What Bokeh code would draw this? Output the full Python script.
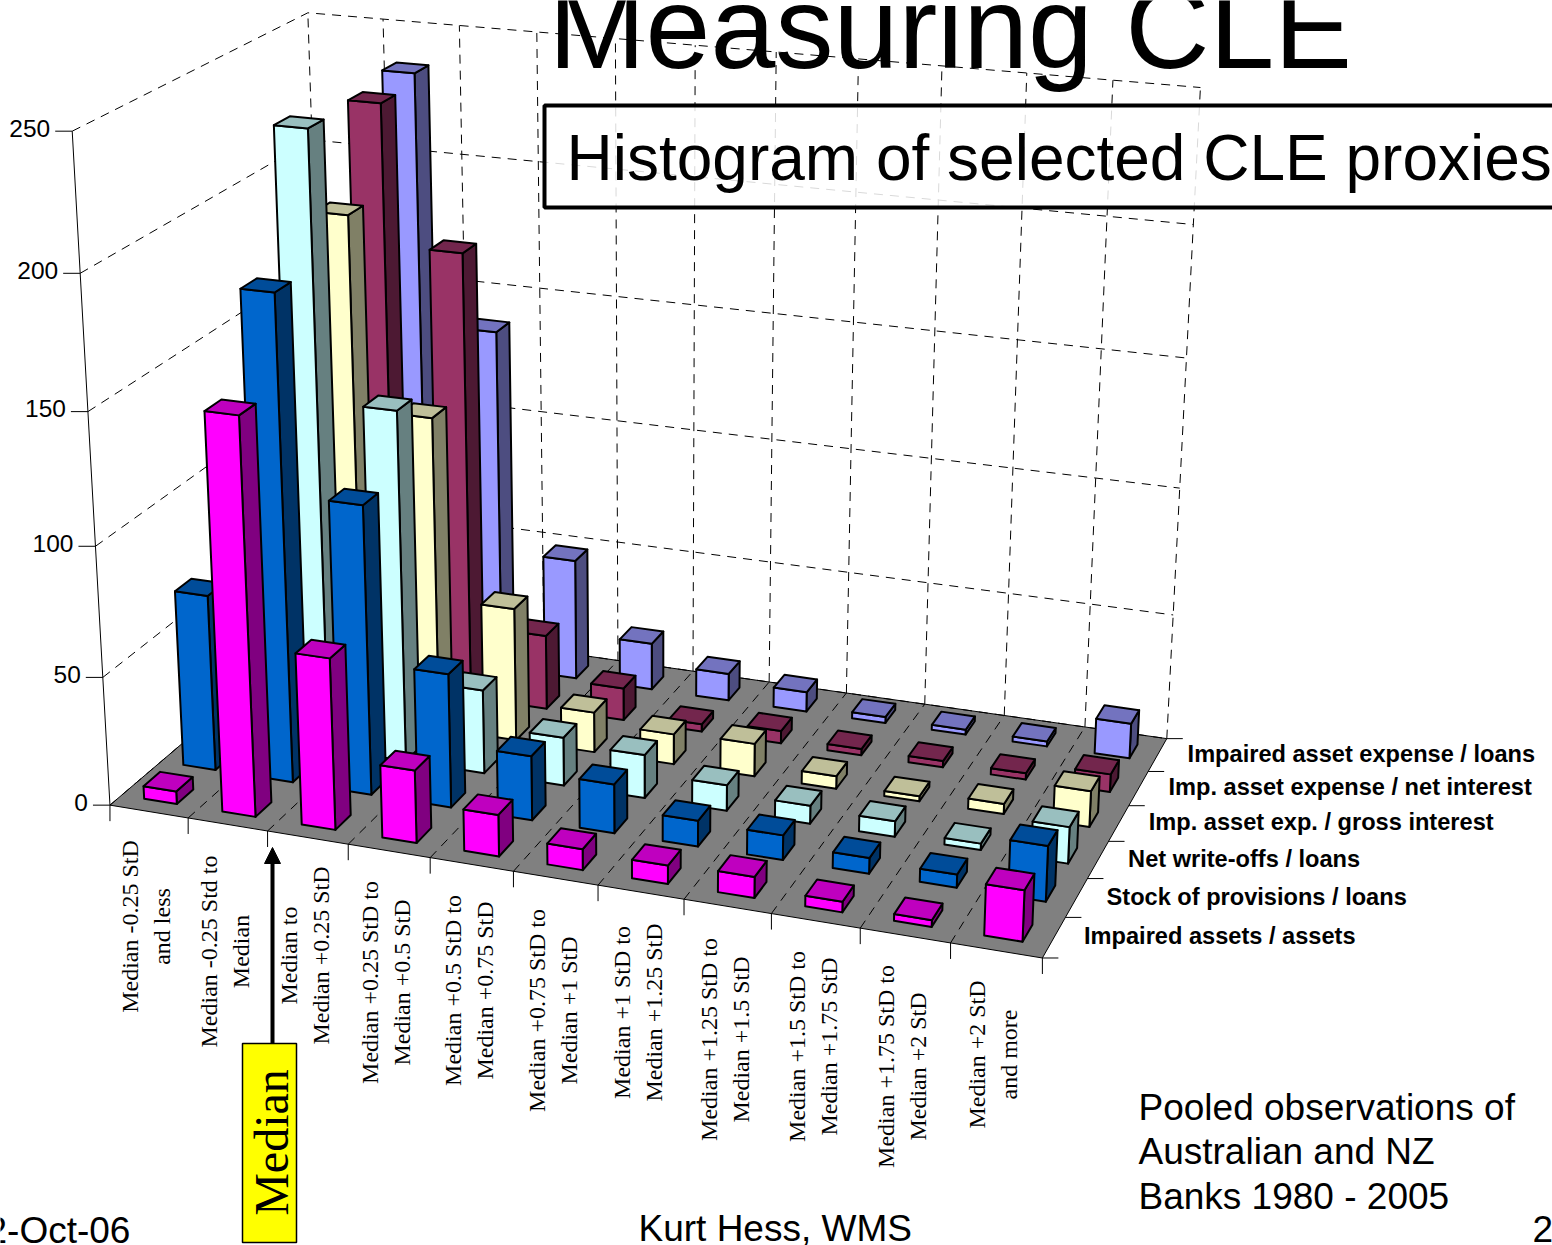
import numpy as np
from bokeh.plotting import figure
from bokeh.core.properties import value
from bokeh.embed import file_html
from bokeh.resources import INLINE

# ---------- data ----------
categories = [
    ("Median -0.25 StD", "and less"),
    ("Median -0.25 Std to", "Median"),
    ("Median to", "Median +0.25 StD"),
    ("Median +0.25 StD to", "Median +0.5 StD"),
    ("Median +0.5 StD to", "Median +0.75 StD"),
    ("Median +0.75 StD to", "Median +1 StD"),
    ("Median +1 StD to", "Median +1.25 StD"),
    ("Median +1.25 StD to", "Median +1.5 StD"),
    ("Median +1.5 StD to", "Median +1.75 StD"),
    ("Median +1.75 StD to", "Median +2 StD"),
    ("Median +2 StD", "and more"),
]
series_names = [
    "Impaired assets / assets",
    "Stock of provisions / loans",
    "Net write-offs / loans",
    "Imp. asset exp. / gross interest",
    "Imp. asset expense / net interest",
    "Impaired asset expense / loans",
]
impaired_assets = [5, 152, 66, 28, 16, 8, 7, 8, 4, 2.5, 19]
stock_provisions = [69, 187, 112, 52, 25, 19, 10, 9.5, 6, 5, 21]
net_writeoffs = [45, 238, 137, 33, 19, 17, 10, 7, 6, 2.5, 14]
exp_gross = [30, 198, 124, 53, 16, 12, 13, 5, 2, 4, 14]
exp_net = [25, 232, 178, 30, 13, 3, 5, 2.5, 2.5, 2.5, 7]
exp_loans = [25, 236, 138, 49, 19, 11, 8, 2.5, 2, 2, 14]
y_ticks = [0, 50, 100, 150, 200, 250]

all_series = [impaired_assets, stock_provisions, net_writeoffs, exp_gross, exp_net, exp_loans]

# ---------- styles ----------
front_colors = ["#FF00FF", "#0066CC", "#CCFFFF", "#FFFFCC", "#993366", "#9999FF"]
top_colors = ["#BF00BF", "#004C99", "#99BFBF", "#BFBF99", "#73264D", "#7373BF"]
side_colors = ["#800080", "#003366", "#668080", "#808066", "#4D1933", "#4D4D80"]

W, H = 1552, 1245
YMAX = 250.0
NC, NS = len(categories), len(series_names)
GAP = 0.29

# ---------- perspective fitted to the picture's box corners ----------
world = [(0,0,0),(1,0,0),(1,1,0),(0,1,0),(0,0,1),(0,1,1),(1,1,1)]
screen = [(110,803),(1041,960),(1167,735),(327,621),(72,130),(307,12),(1200,88)]
A, b = [], []
for (X,Y,Z),(u,v) in zip(world, screen):
    A.append([X,Y,Z,1,0,0,0,0,-u*X,-u*Y,-u*Z]); b.append(u)
    A.append([0,0,0,0,X,Y,Z,1,-v*X,-v*Y,-v*Z]); b.append(v)
sol = np.linalg.lstsq(np.array(A,float), np.array(b,float), rcond=None)[0]
PM = np.append(sol, 1.0).reshape(3,4)

def proj(c, s, val):
    """c: category position, s: series position, val: data value."""
    q = PM @ np.array([c/NC, s/NS, val/YMAX, 1.0])
    return q[0]/q[2], q[1]/q[2]

def path(*pts):
    pp = [proj(*t) for t in pts]
    return [a for a,_ in pp], [b for _,b in pp]

p = figure(width=W, height=H, x_range=(0, W), y_range=(H, 0),
           output_backend="svg", toolbar_location=None, min_border=0,
           outline_line_color=None, background_fill_color="white", border_fill_color="white")
p.axis.visible = False
p.grid.visible = False

DASH = "9 7"
# floor
fx, fy = path((0,0,0),(NC,0,0),(NC,NS,0),(0,NS,0))
p.patch(fx, fy, fill_color="#808080", line_color="black", line_width=1)

# walls
gx, gy = [], []
for t in y_ticks:
    x, y = path((0,0,t),(0,NS,t),(NC,NS,t))
    gx.append(x); gy.append(y)
for c in range(NC+1):
    x, y = path((c,NS,0),(c,NS,YMAX))
    gx.append(x); gy.append(y)
p.multi_line(gx, gy, line_color="black", line_width=1, line_dash=DASH)
# floor grid
gx, gy = [], []
for c in range(1, NC):
    x, y = path((c,0,0),(c,NS,0))
    gx.append(x); gy.append(y)
p.multi_line(gx, gy, line_color="black", line_width=1, line_dash=DASH)

# axes + ticks
ax, ay = path((0,0,0),(0,0,YMAX))
p.line(ax, ay, line_color="black", line_width=1)
tx, ty = [], []
for t in y_ticks:
    x, y = proj(0,0,t)
    tx.append([x-17, x]); ty.append([y, y])
    p.text([x-22], [y-3], text=[str(t)], text_font=value("Liberation Sans"), text_font_size="24.5px",
           text_align="right", text_baseline="middle", text_color="black")
for c in range(NC+1):
    x, y = proj(c,0,0)
    tx.append([x, x]); ty.append([y, y+16])
for s in range(NS+1):
    x, y = proj(NC,s,0)
    tx.append([x, x+16]); ty.append([y, y])
p.multi_line(tx, ty, line_color="black", line_width=1)

# bars, painted back to front
xs, ys, cols = [], [], []
for s in range(NS-1, -1, -1):
    vals = all_series[s]
    for c in range(NC):
        z = vals[c]
        c0, c1 = c+GAP, c+1-GAP
        s0, s1 = s+GAP, s+1-GAP
        for pts, col in (
            (((c1,s0,0),(c1,s1,0),(c1,s1,z),(c1,s0,z)), side_colors[s]),
            (((c0,s0,0),(c1,s0,0),(c1,s0,z),(c0,s0,z)), front_colors[s]),
            (((c0,s0,z),(c1,s0,z),(c1,s1,z),(c0,s1,z)), top_colors[s]),
        ):
            x, y = path(*pts)
            xs.append(x); ys.append(y); cols.append(col)
p.patches(xs, ys, fill_color=cols, line_color="black", line_width=2, line_join="round")

# series labels
for s, name in enumerate(series_names):
    x, y = proj(NC, s+0.5, 0)
    p.text([x+30], [y-1], text=[name], text_font=value("Liberation Sans"), text_font_style="bold",
           text_font_size="23.6px", text_align="left", text_baseline="middle", text_color="black")

# category labels
label_mid_y = [926, 951, 955, 982, 990, 1010, 1012, 1039, 1046, 1066, 1054]
for c, (l1, l2) in enumerate(categories):
    x, _ = proj(c+0.5, 0, 0)
    p.text([x-19, x+13], [label_mid_y[c]]*2, text=[l1, l2], angle=np.pi/2,
           text_font=value("Liberation Serif"), text_font_size="24px",
           text_align="center", text_baseline="middle", text_color="black")

# median marker
p.line([272, 272], [1043, 862], line_color="black", line_width=4)
p.patch([272, 264, 280], [847, 863, 863], fill_color="black", line_color="black", line_width=1)
p.quad(left=[242], right=[296], top=[1043], bottom=[1242], fill_color="#FFFF00", line_color="black", line_width=1.5)
p.text([271], [1142], text=["Median"], angle=np.pi/2, text_font=value("Liberation Serif"),
       text_font_size="48px", text_align="center", text_baseline="middle", text_color="black")

def sans(x, baseline, txt, size):
    # anchored on the em-box middle: 0.3465 em above the baseline for this font
    p.text([x], [baseline-0.3465*size], text=[txt], text_font=value("Liberation Sans"),
           text_font_size=f"{size}px", text_align="left", text_baseline="middle", text_color="black")

# title
sans(548, 67, "Measuring CLE", 116.6)
p.quad(left=[544], right=[1600], top=[105], bottom=[207], fill_color="white", fill_alpha=0.85,
       line_color="black", line_width=4)
sans(566, 180, "Histogram of selected CLE proxies", 64)

# footer
for tx_, ty_, t_ in [(-14, 1243, "2-Oct-06"), (638, 1241, "Kurt Hess, WMS"), (1532, 1241, "2"),
                     (1138, 1120, "Pooled observations of"), (1138, 1164, "Australian and NZ"),
                     (1138, 1209, "Banks 1980 - 2005")]:
    sans(tx_, ty_, t_, 37)

open("out.html", "w").write(file_html(p, INLINE))
